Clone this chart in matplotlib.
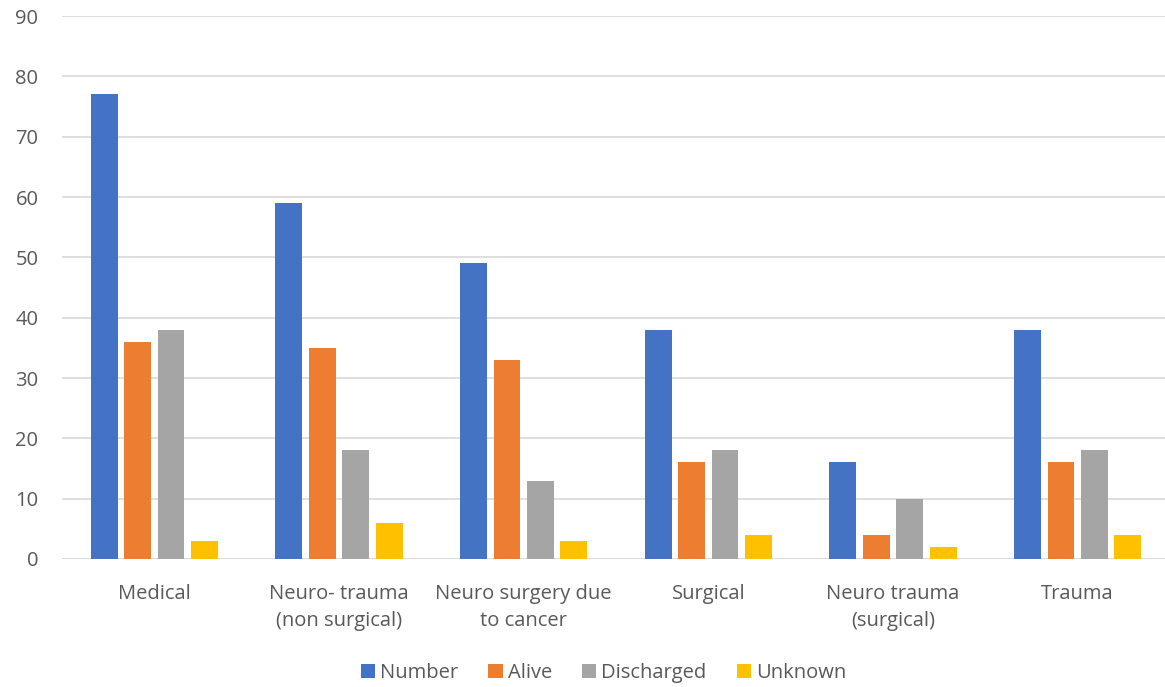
import numpy as np
import matplotlib.pyplot as plt

plt.rcParams['font.family'] = ['Open Sans', 'DejaVu Sans']

categories = ["Medical", "Neuro- trauma\n(non surgical)", "Neuro surgery due\nto cancer",
              "Surgical", "Neuro trauma\n(surgical)", "Trauma"]
number = [77, 59, 49, 38, 16, 38]
alive = [36, 35, 33, 16, 4, 16]
discharged = [38, 18, 13, 18, 10, 18]
unknown = [3, 6, 3, 4, 2, 4]

series = [("Number", number, "#4472C4"),
          ("Alive", alive, "#ED7D31"),
          ("Discharged", discharged, "#A5A5A5"),
          ("Unknown", unknown, "#FFC000")]

TEXT = "#595959"
FS = 14.5

fig = plt.figure(figsize=(11.65, 6.87), dpi=100)
ax = fig.add_axes([62 / 1165, 1 - 559 / 687, (1170 - 62) / 1165, (559 - 16) / 687])

x = np.arange(len(categories))
step = 0.181
width = 0.145
for i, (name, vals, col) in enumerate(series):
    ax.bar(x + (i - 1.5) * step, vals, width=width, color=col, label=name, zorder=3)

ax.set_xlim(-0.5, len(categories) - 0.5)
ax.set_ylim(0, 90)
ax.set_yticks(range(0, 91, 10))
ax.yaxis.grid(True, color="#d9d9d9", lw=1.2, zorder=0)
ax.set_axisbelow(True)
for s in ax.spines.values():
    s.set_visible(False)
ax.axhline(0, color="#d9d9d9", lw=1.2, zorder=2)

ax.set_xticks(x)
ax.set_xticklabels(categories, fontsize=FS, color=TEXT, linespacing=1.45)
ax.tick_params(axis="both", length=0, labelsize=FS, labelcolor=TEXT)
ax.tick_params(axis="x", pad=18)
ax.tick_params(axis="y", pad=17)

leg = fig.legend(loc="center", bbox_to_anchor=(0.518, 1 - 673 / 687), ncol=4,
                 frameon=False, fontsize=FS, handlelength=0.7, handleheight=0.7,
                 handletextpad=0.25, columnspacing=1.5)
for t in leg.get_texts():
    t.set_color(TEXT)

fig.savefig("out.png", dpi=100)
